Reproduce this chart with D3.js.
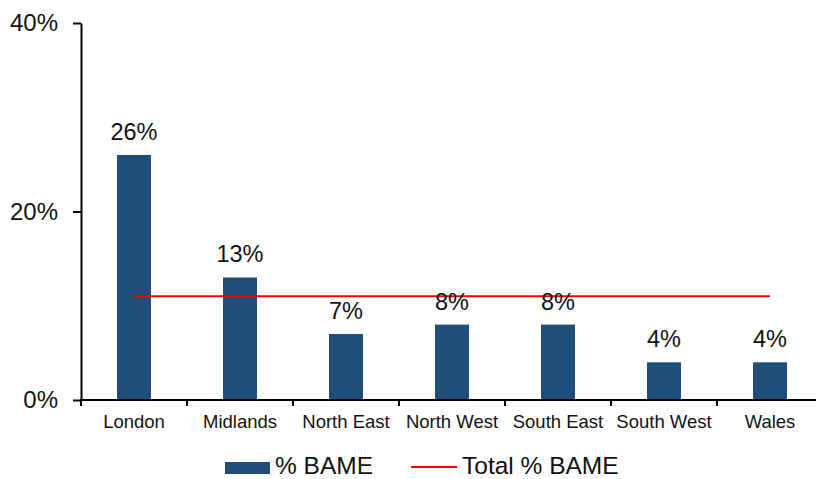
<!DOCTYPE html>
<html>
<head>
<meta charset="utf-8">
<script src="https://cdn.jsdelivr.net/npm/d3@7"></script>
<style>
  html, body { margin: 0; padding: 0; background: #fff; }
  svg text { font-family: "Liberation Sans", Arial, sans-serif; fill: #111; }
</style>
</head>
<body>
<svg id="chart" width="816" height="479"></svg>
<script>
// Share of BAME staff by region, with the overall share as a reference line
const regions = ["London", "Midlands", "North East", "North West", "South East", "South West", "Wales"];
const bameShare = [26, 13, 7, 8, 8, 4, 4];
const totalShare = 11;
const yTicks = [0, 20, 40];

const svg = d3.select("#chart");
const barColor = "#1f4e79";
const lineColor = "#ff0000";

const x = d3.scaleBand().domain(regions).range([81, 823]).paddingInner(0).paddingOuter(0);
const y = d3.scaleLinear().domain([0, 40]).range([400, 23]);
const barW = 34;

// Y axis
const yAxis = svg.append("g").attr("transform", "translate(81,0)")
  .call(d3.axisLeft(y).tickValues(yTicks).tickFormat(d => d + "%").tickSize(8).tickSizeOuter(0));
yAxis.select(".domain").attr("stroke", "#000").attr("stroke-width", 2);
yAxis.selectAll(".tick line").attr("stroke", "#000").attr("stroke-width", 2);
yAxis.selectAll(".tick text").attr("x", -23).attr("font-size", 24).attr("fill", "#111");

// Bars
svg.append("g").selectAll("rect").data(regions).join("rect")
  .attr("x", d => x(d) + x.bandwidth() / 2 - barW / 2)
  .attr("width", barW)
  .attr("y", (d, i) => y(bameShare[i]))
  .attr("height", (d, i) => y(0) - y(bameShare[i]))
  .attr("fill", barColor);

// X axis with ticks at category boundaries
const xAxisG = svg.append("g").attr("transform", "translate(0,400)");
xAxisG.append("line").attr("x1", 80).attr("x2", 816).attr("y1", 0).attr("y2", 0)
  .attr("stroke", "#000").attr("stroke-width", 2);
const bounds = regions.map(d => x(d));
xAxisG.selectAll("line.tk").data(bounds).join("line").attr("class", "tk")
  .attr("x1", d => d).attr("x2", d => d).attr("y1", 0).attr("y2", 6)
  .attr("stroke", "#000").attr("stroke-width", 2);
xAxisG.selectAll("text").data(regions).join("text")
  .attr("x", d => x(d) + x.bandwidth() / 2)
  .attr("y", 28)
  .attr("text-anchor", "middle")
  .attr("font-size", 18.5)
  .text(d => d);

// Total line across bar centres
const first = regions[0], last = regions[regions.length - 1];
svg.append("line")
  .attr("x1", x(first) + x.bandwidth() / 2)
  .attr("x2", x(last) + x.bandwidth() / 2)
  .attr("y1", y(totalShare)).attr("y2", y(totalShare))
  .attr("stroke", lineColor).attr("stroke-width", 2);

// Value labels
svg.append("g").selectAll("text").data(regions).join("text")
  .attr("x", d => x(d) + x.bandwidth() / 2)
  .attr("y", (d, i) => y(bameShare[i]) - 15)
  .attr("text-anchor", "middle")
  .attr("font-size", 23.5)
  .text((d, i) => bameShare[i] + "%");

// Legend
const lg = svg.append("g");
lg.append("rect").attr("x", 225).attr("y", 462).attr("width", 45).attr("height", 12).attr("fill", barColor);
lg.append("text").attr("x", 275).attr("y", 474).attr("font-size", 24.5).text("% BAME");
lg.append("line").attr("x1", 411).attr("x2", 457).attr("y1", 467).attr("y2", 467)
  .attr("stroke", lineColor).attr("stroke-width", 2);
lg.append("text").attr("x", 462).attr("y", 474).attr("font-size", 24.5).text("Total % BAME");
</script>
</body>
</html>
